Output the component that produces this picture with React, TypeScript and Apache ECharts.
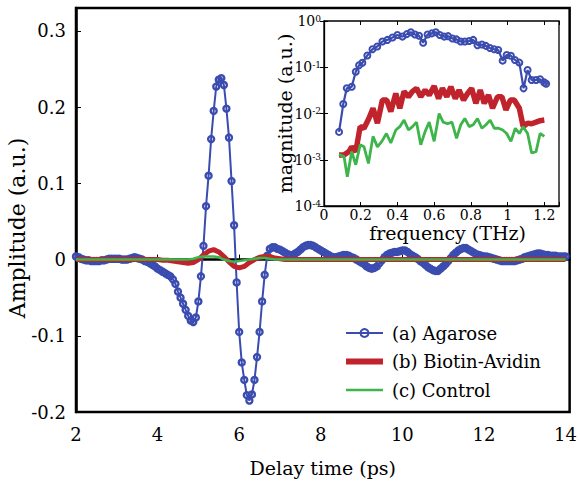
import React, { useEffect, useRef } from 'react';
import * as echarts from 'echarts';

// ---- Main plot: time-domain signals ----
const DELAY_START = 2; // ps
const AGAROSE_STEP = 0.0625; // ps between samples
const agarose = [
  0.004, 0.003, 0.001, 0, -0.001, -0.001, -0.002, -0.002, -0.002, -0.002,
  -0.001, -0.001, 0, 0.001, 0.001, 0.001, 0.001, 0.001, 0, 0,
  0, 0.001, 0.002, 0.003, 0.002, 0.001, 0, -0.002, -0.003, -0.005,
  -0.007, -0.009, -0.012, -0.014, -0.016, -0.018, -0.02, -0.022, -0.026, -0.032,
  -0.042, -0.05, -0.058, -0.066, -0.074, -0.08, -0.082, -0.076, -0.055, -0.022,
  0.018, 0.07, 0.11, 0.158, 0.195, 0.227, 0.236, 0.238, 0.229, 0.198,
  0.16, 0.103, 0.045, -0.03, -0.095, -0.135, -0.158, -0.178, -0.185, -0.177,
  -0.158, -0.128, -0.095, -0.055, -0.02, 0.005, 0.014, 0.016, 0.016, 0.014,
  0.013, 0.011, 0.009, 0.007, 0.006, 0.006, 0.008, 0.01, 0.013, 0.016,
  0.018, 0.019, 0.019, 0.018, 0.016, 0.014, 0.012, 0.01, 0.008, 0.006,
  0.004, 0.003, 0.003, 0.004, 0.005, 0.006, 0.006, 0.005, 0.003, 0.002,
  0, -0.002, -0.004, -0.006, -0.009, -0.011, -0.012, -0.011, -0.009, -0.005,
  -0.001, 0.003, 0.006, 0.008, 0.009, 0.01, 0.01, 0.011, 0.012, 0.012,
  0.01, 0.007, 0.005, 0.003, 0.001, -0.002, -0.004, -0.007, -0.01, -0.012,
  -0.014, -0.015, -0.015, -0.012, -0.009, -0.006, -0.002, 0.002, 0.006, 0.009,
  0.012, 0.014, 0.015, 0.015, 0.013, 0.011, 0.009, 0.007, 0.006, 0.005,
  0.004, 0.004, 0.003, 0.002, 0.001, 0, -0.001, -0.002, -0.002, -0.002,
  -0.002, -0.002, -0.002, -0.001, 0, 0.001, 0.003, 0.004, 0.005, 0.006,
  0.007, 0.008, 0.008, 0.007, 0.006, 0.006, 0.005, 0.005, 0.005, 0.004,
  0.004, 0.004, 0.004,
];
const OTHER_STEP = 0.125; // ps between samples
const biotinAvidin = [
  0, 0, 0, 0, 0, 0, 0, 0, 0, 0,
  0, 0, 0, 0, 0, 0, 0, -0.001, -0.001, -0.002,
  -0.003, -0.004, -0.005, -0.004, 0, 0.006, 0.011, 0.013, 0.01, 0.004,
  -0.003, -0.009, -0.011, -0.009, -0.004, 0, 0.003, 0.004, 0.004, 0.002,
  0.001, 0, 0, 0, 0, 0, 0, 0, 0, 0,
  0, 0, 0, 0, 0, 0, 0, 0, 0, 0,
  0, 0, 0, 0, 0, 0, 0, 0, 0, 0,
  0, 0, 0, 0, 0, 0, 0, 0, 0, 0,
  0, 0, 0, 0, 0, 0, 0, 0, 0, 0,
  0, 0, 0, 0, 0, 0, 0,
];
const control = [
  0, 0, 0, 0, 0, 0, 0, 0, 0, 0,
  0, 0, 0, 0, 0, 0, 0, 0, 0, 0,
  0, 0, 0, 0.001, 0.003, 0.004, 0.004, 0.004, 0.003, 0,
  -0.002, -0.003, -0.002, -0.001, 0, 0.001, 0.002, 0.002, 0.001, 0,
  0, 0, 0, 0, 0, 0, 0, 0, 0, 0,
  0, 0, 0, 0, 0, 0, 0, 0, 0, 0,
  0, 0, 0, 0, 0, 0, 0, 0, 0, 0,
  0, 0, 0, 0, 0, 0, 0, 0, 0, 0,
  0, 0, 0, 0, 0, 0, 0, 0, 0, 0,
  0, 0, 0, 0, 0, 0, 0,
];

// ---- Inset: spectra ----
const agaroseFreq = [0.082, 0.105, 0.124, 0.151, 0.173, 0.191, 0.209, 0.236, 0.264, 0.29, 0.318, 0.345, 0.373, 0.4, 0.427, 0.451, 0.473, 0.496, 0.518, 0.54, 0.564, 0.587, 0.609, 0.631, 0.655, 0.676, 0.7, 0.722, 0.745, 0.767, 0.791, 0.813, 0.836, 0.86, 0.882, 0.904, 0.927, 0.949, 0.973, 0.995, 1.018, 1.04, 1.064, 1.087, 1.109, 1.131, 1.155, 1.177, 1.2, 1.21];
const agaroseMag = [0.004, 0.016, 0.035, 0.038, 0.08, 0.11, 0.125, 0.18, 0.245, 0.28, 0.36, 0.39, 0.44, 0.5, 0.46, 0.52, 0.57, 0.51, 0.48, 0.34, 0.51, 0.54, 0.57, 0.5, 0.46, 0.47, 0.42, 0.4, 0.36, 0.36, 0.37, 0.39, 0.3, 0.31, 0.29, 0.26, 0.245, 0.236, 0.139, 0.184, 0.178, 0.144, 0.126, 0.035, 0.087, 0.053, 0.053, 0.055, 0.047, 0.044];
const biotinFreq = [0.082, 0.109, 0.136, 0.151, 0.173, 0.197, 0.218, 0.245, 0.267, 0.291, 0.318, 0.342, 0.364, 0.391, 0.413, 0.436, 0.46, 0.482, 0.504, 0.527, 0.551, 0.573, 0.6, 0.624, 0.645, 0.669, 0.691, 0.715, 0.736, 0.76, 0.782, 0.804, 0.827, 0.851, 0.873, 0.896, 0.918, 0.945, 0.969, 0.991, 1.015, 1.036, 1.064, 1.085, 1.109, 1.131, 1.155, 1.177, 1.2];
const biotinMag = [0.00126, 0.00126, 0.0015, 0.0019, 0.0015, 0.0052, 0.0048, 0.0079, 0.013, 0.0062, 0.0195, 0.0195, 0.011, 0.027, 0.013, 0.03, 0.023, 0.03, 0.035, 0.023, 0.032, 0.025, 0.039, 0.021, 0.035, 0.023, 0.038, 0.021, 0.032, 0.0195, 0.027, 0.035, 0.0166, 0.032, 0.0166, 0.025, 0.013, 0.023, 0.023, 0.012, 0.0195, 0.0195, 0.013, 0.0052, 0.0062, 0.006, 0.0065, 0.007, 0.0072];
const controlFreq = [0.082, 0.109, 0.127, 0.151, 0.173, 0.197, 0.218, 0.242, 0.267, 0.291, 0.315, 0.34, 0.364, 0.391, 0.413, 0.436, 0.46, 0.482, 0.504, 0.527, 0.551, 0.573, 0.6, 0.627, 0.649, 0.673, 0.697, 0.722, 0.745, 0.767, 0.791, 0.813, 0.836, 0.86, 0.882, 0.905, 0.927, 0.951, 0.973, 0.995, 1.018, 1.042, 1.064, 1.085, 1.109, 1.131, 1.155, 1.177, 1.2];
const controlMag = [0.0013, 0.00117, 0.00043, 0.0015, 0.00078, 0.0021, 0.0019, 0.00083, 0.0032, 0.0019, 0.0025, 0.0037, 0.0023, 0.0044, 0.0052, 0.0072, 0.0044, 0.0052, 0.0065, 0.0021, 0.0041, 0.0065, 0.0025, 0.01, 0.0065, 0.006, 0.0065, 0.0029, 0.0057, 0.0078, 0.0052, 0.0057, 0.0078, 0.0048, 0.0057, 0.0072, 0.0048, 0.0048, 0.0044, 0.0037, 0.0025, 0.0048, 0.0037, 0.0052, 0.0037, 0.0014, 0.0015, 0.0037, 0.0032];

const legendNames = ['(a) Agarose', '(b) Biotin-Avidin', '(c) Control'];

const BLUE = '#3b4cb0';
const RED = '#c0232c';
const GREEN = '#3db54a';
const FONT = 'DejaVu Serif';

const sampled = (vals: number[], step: number) => vals.map((v, i) => [DELAY_START + i * step, v]);
const paired = (xs: number[], ys: number[]) => xs.map((x, i) => [x, ys[i]]);

export default function App() {
  const ref = useRef<HTMLDivElement>(null);
  useEffect(() => {
    document.body.style.margin = '0';
    const chart = echarts.init(ref.current!, null, { renderer: 'svg' });
    const txt = { fontFamily: FONT, color: '#000' };
    const option: any = {
      animation: false,
      backgroundColor: '#fff',
      grid: [
        { left: 76, top: 8, width: 498, height: 411, show: true, borderColor: '#000', borderWidth: 2.5, backgroundColor: 'transparent' },
        { left: 324, top: 21, width: 235, height: 185, show: true, borderColor: '#000', borderWidth: 1.3, backgroundColor: '#fff', z: 5 },
      ],
      legend: {
        data: [
          { name: legendNames[0] },
          { name: legendNames[1], icon: 'path://M0,0 H37 V6 H0 Z' },
          { name: legendNames[2], icon: 'path://M0,0 H37 V2.5 H0 Z' },
        ],
        orient: 'vertical',
        left: 345,
        top: 324,
        padding: 0,
        itemWidth: 37,
        itemHeight: 10,
        itemGap: 10.5,
        textStyle: { ...txt, fontSize: 18, padding: [0, 0, 0, 4] },
      },
      xAxis: [
        {
          gridIndex: 0, type: 'value', min: 2, max: 14.1, interval: 2,
          axisLine: { show: true, lineStyle: { color: '#000', width: 2.5 } },
          axisTick: { inside: true, length: 5, lineStyle: { color: '#000', width: 1 } },
          axisLabel: {
            ...txt, fontSize: 18, margin: 13,
            formatter: (v: number) => (Math.abs(v / 2 - Math.round(v / 2)) < 1e-6 ? String(Math.round(v)) : ''),
          },
          splitLine: { show: false },
          name: 'Delay time (ps)', nameLocation: 'middle', nameGap: 46, nameMoveOverlap: false,
          nameTextStyle: { ...txt, fontSize: 19 },
        },
        {
          gridIndex: 1, type: 'value', min: 0, max: 1.28, interval: 0.2,
          axisLine: { show: true, lineStyle: { color: '#000', width: 1.3 } },
          axisTick: { inside: true, length: 4, lineStyle: { color: '#000', width: 1 } },
          axisLabel: {
            ...txt, fontSize: 14, lineHeight: 14, margin: 2,
            formatter: (v: number) => {
              const r = Math.round(v / 0.2);
              return Math.abs(v - r * 0.2) < 1e-6 ? String(parseFloat((r * 0.2).toFixed(1))) : '';
            },
          },
          splitLine: { show: false },
          name: 'frequency (THz)', nameLocation: 'middle', nameGap: 17, nameMoveOverlap: false,
          nameTextStyle: { ...txt, fontSize: 19, lineHeight: 19, padding: [0, 0, 0, 12] },
          z: 6,
        },
        {
          gridIndex: 1, type: 'value', min: 0, max: 1.28, interval: 0.2, position: 'top',
          axisLine: { show: false },
          axisTick: { inside: true, length: 4, lineStyle: { color: '#000', width: 1 } },
          axisLabel: { show: false },
          splitLine: { show: false },
          z: 6,
        },
      ],
      yAxis: [
        {
          gridIndex: 0, type: 'value', min: -0.2, max: 0.33, interval: 0.1,
          axisLine: { show: true, lineStyle: { color: '#000', width: 2.5 } },
          axisTick: { inside: true, length: 5, lineStyle: { color: '#000', width: 1 } },
          axisLabel: {
            ...txt, fontSize: 18, margin: 10,
            formatter: (v: number) => {
              const r = Math.round(v * 10);
              return Math.abs(v * 10 - r) < 1e-6 ? String(r / 10) : '';
            },
          },
          splitLine: { show: false },
        },
        {
          gridIndex: 1, type: 'log', logBase: 10, min: 1e-4, max: 1,
          axisLine: { show: true, lineStyle: { color: '#000', width: 1.3 } },
          axisTick: { inside: true, length: 4, lineStyle: { color: '#000', width: 1 } },
          axisLabel: {
            margin: 3,
            formatter: (v: number) => '{b|10}{s|' + Math.round(Math.log10(v)) + '}',
            rich: {
              b: { ...txt, fontSize: 14 },
              s: { ...txt, fontSize: 9, verticalAlign: 'top' },
            },
          },
          splitLine: { show: false },
          name: 'magnitude (a.u.)', nameLocation: 'middle', nameGap: 30, nameMoveOverlap: false,
          nameTextStyle: { ...txt, fontSize: 19 },
          z: 6,
        },
        {
          gridIndex: 1, type: 'log', logBase: 10, min: 1e-4, max: 1, position: 'right',
          axisLine: { show: false },
          axisTick: { inside: true, length: 4, lineStyle: { color: '#000', width: 1 } },
          axisLabel: { show: false },
          splitLine: { show: false },
          z: 6,
        },
      ],
      graphic: [
        {
          type: 'text', x: 17, y: 228, rotation: Math.PI / 2,
          style: {
            text: 'Amplitude (a.u.)', fontFamily: FONT, fontSize: 22, fill: '#000',
            align: 'center', verticalAlign: 'middle', textAlign: 'center', textVerticalAlign: 'middle',
          },
        },
      ],
      series: [
        {
          name: legendNames[0], type: 'line', xAxisIndex: 0, yAxisIndex: 0,
          data: sampled(agarose, AGAROSE_STEP),
          symbol: 'circle', symbolSize: 6,
          itemStyle: { color: 'rgba(255,255,255,0)', borderColor: BLUE, borderWidth: 2.4 },
          lineStyle: { color: BLUE, width: 2 },
          z: 2,
        },
        {
          name: legendNames[1], type: 'line', xAxisIndex: 0, yAxisIndex: 0,
          data: sampled(biotinAvidin, OTHER_STEP), symbol: 'none',
          itemStyle: { color: RED }, lineStyle: { color: RED, width: 5 }, z: 3,
        },
        {
          name: legendNames[2], type: 'line', xAxisIndex: 0, yAxisIndex: 0,
          data: sampled(control, OTHER_STEP), symbol: 'none',
          itemStyle: { color: GREEN }, lineStyle: { color: GREEN, width: 2.5 }, z: 4,
        },
        {
          name: 'Agarose spectrum', type: 'line', xAxisIndex: 1, yAxisIndex: 1,
          data: paired(agaroseFreq, agaroseMag),
          symbol: 'circle', symbolSize: 6,
          itemStyle: { color: 'rgba(255,255,255,0)', borderColor: BLUE, borderWidth: 2 },
          lineStyle: { color: BLUE, width: 2.2 }, z: 10,
        },
        {
          name: 'Biotin-Avidin spectrum', type: 'line', xAxisIndex: 1, yAxisIndex: 1,
          data: paired(biotinFreq, biotinMag), symbol: 'none',
          itemStyle: { color: RED }, lineStyle: { color: RED, width: 5.5 }, z: 10,
        },
        {
          name: 'Control spectrum', type: 'line', xAxisIndex: 1, yAxisIndex: 1,
          data: paired(controlFreq, controlMag), symbol: 'none',
          itemStyle: { color: GREEN }, lineStyle: { color: GREEN, width: 2.8 }, z: 10,
        },
      ],
    };
    chart.setOption(option);
    return () => chart.dispose();
  }, []);
  return <div ref={ref} style={{ width: 580, height: 482, position: 'fixed', left: 0, top: 0, background: '#fff' }} />;
}
